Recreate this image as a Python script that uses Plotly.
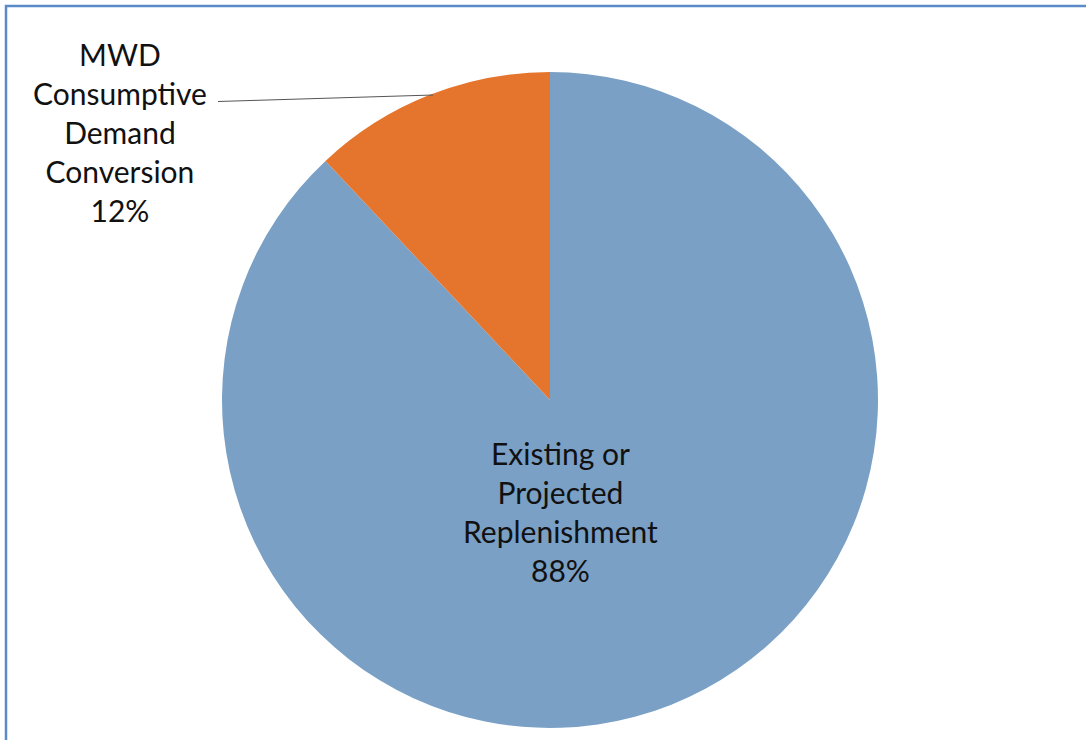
import plotly.graph_objects as go

categories = ["Existing or Projected Replenishment", "MWD Consumptive Demand Conversion"]
values = [88, 12]
label_texts = ["Existing or<br>Projected<br>Replenishment<br>88%",
               "MWD<br>Consumptive<br>Demand<br>Conversion<br>12%"]
colors = ["#7AA0C6", "#E5742C"]

W, H = 1086, 740

def px(x):
    return x / W

def py(y):
    return 1 - y / H

fig = go.Figure(go.Pie(
    labels=categories,
    values=values,
    sort=False,
    direction="clockwise",
    rotation=0,
    marker=dict(colors=colors, line=dict(width=0)),
    textinfo="none",
    hoverinfo="label+percent",
    showlegend=False,
    domain=dict(x=[px(222), px(878)], y=[py(728), py(72)]),
))

font = dict(family="Lato, Open Sans, sans-serif", size=30, color="#111111")
fig.add_annotation(x=px(120), y=py(132), xref="paper", yref="paper",
                   text=label_texts[1], showarrow=False, font=font,
                   align="center", xanchor="center", yanchor="middle")
fig.add_annotation(x=px(560), y=py(511), xref="paper", yref="paper",
                   text=label_texts[0], showarrow=False, font=font,
                   align="center", xanchor="center", yanchor="middle")

# leader line
fig.add_shape(type="line", xref="paper", yref="paper",
              x0=px(218), y0=py(101.5), x1=px(433), y1=py(95),
              line=dict(color="#555555", width=1))
# frame border
fig.add_shape(type="rect", xref="paper", yref="paper",
              x0=px(6), y0=py(760), x1=px(1100), y1=py(6),
              line=dict(color="#5A8AC8", width=2.5), fillcolor="rgba(0,0,0,0)")

fig.update_layout(
    width=W, height=H,
    margin=dict(l=0, r=0, t=0, b=0),
    paper_bgcolor="white",
    plot_bgcolor="white",
)

fig.write_html("out.html")
